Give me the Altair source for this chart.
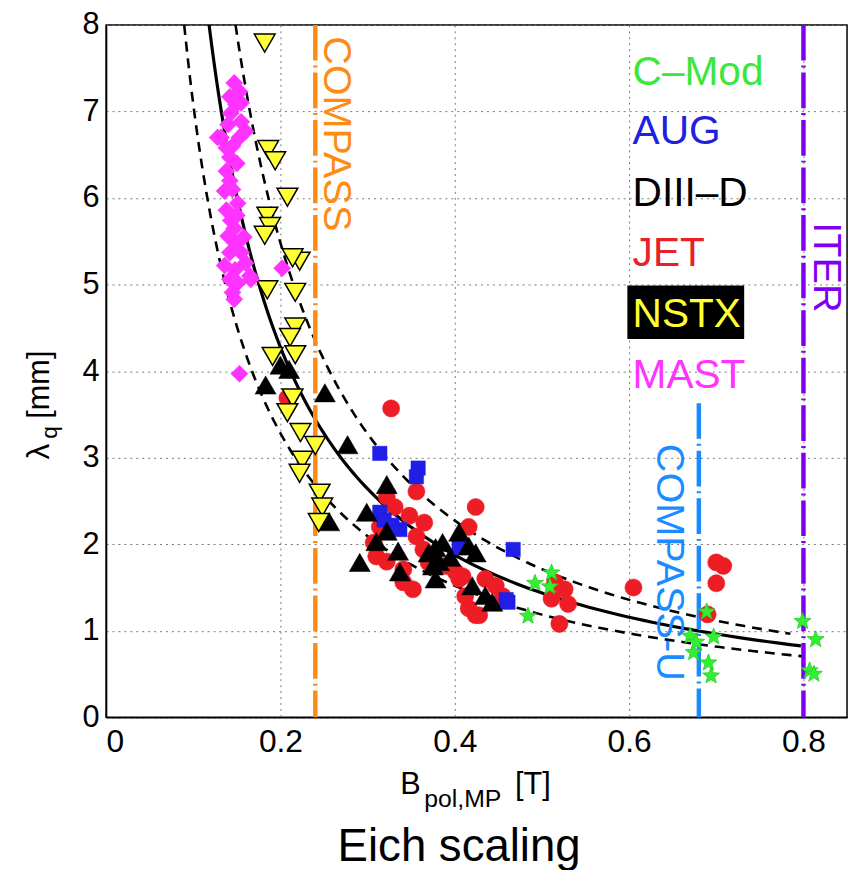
import math
import pandas as pd
import altair as alt

# ---------------- data ----------------
CMOD_X = [0.511, 0.492, 0.509, 0.484, 0.689, 0.670, 0.697, 0.674, 0.691, 0.694, 0.799, 0.814, 0.807, 0.812, 0.677]
CMOD_Y = [1.68, 1.56, 1.52, 1.18, 1.23, 0.95, 0.94, 0.76, 0.64, 0.49, 1.12, 0.91, 0.55, 0.51, 0.88]

AUG_X = [0.314, 0.358, 0.356, 0.314, 0.319, 0.337, 0.328, 0.405, 0.467, 0.461, 0.459]
AUG_Y = [3.05, 2.88, 2.78, 2.37, 2.28, 2.17, 2.22, 1.96, 1.94, 1.33, 1.36]

DIIID_X = [0.200, 0.210, 0.183, 0.251, 0.277, 0.322, 0.299, 0.256, 0.291, 0.322, 0.310, 0.335, 0.337,
           0.378, 0.386, 0.382, 0.378, 0.405, 0.416, 0.424, 0.420, 0.435, 0.443, 0.375, 0.395, 0.370]
DIIID_Y = [4.07, 4.02, 3.84, 3.75, 3.15, 2.69, 2.37, 2.26, 1.79, 2.15, 2.03, 1.92, 1.68,
           1.96, 2.02, 1.80, 1.60, 2.14, 1.98, 1.90, 1.52, 1.41, 1.33, 1.75, 1.85, 1.90]

JET_X = [0.327, 0.356, 0.424, 0.416, 0.322, 0.331, 0.348, 0.356, 0.364, 0.307, 0.310, 0.322, 0.341, 0.341,
         0.352, 0.405, 0.412, 0.416, 0.424, 0.401, 0.435, 0.447, 0.455, 0.314, 0.370, 0.409, 0.428, 0.515,
         0.526, 0.530, 0.511, 0.520, 0.605, 0.700, 0.708, 0.700, 0.690, 0.208, 0.365, 0.390]
JET_Y = [3.57, 2.61, 2.43, 2.20, 2.55, 2.43, 2.33, 2.09, 1.94, 2.02, 1.86, 1.80, 1.71, 1.56,
         1.48, 1.60, 1.40, 1.26, 1.18, 1.68, 1.60, 1.52, 1.40, 2.20, 1.79, 1.63, 1.18, 1.56,
         1.48, 1.31, 1.37, 1.08, 1.50, 1.79, 1.75, 1.55, 1.19, 3.69, 2.25, 1.75]

NSTX_X = [0.182, 0.186, 0.194, 0.208, 0.185, 0.188, 0.182, 0.222, 0.214, 0.185, 0.217, 0.217, 0.211,
          0.191, 0.217, 0.214, 0.208, 0.223, 0.240, 0.225, 0.222, 0.245, 0.248, 0.244]
NSTX_Y = [7.79, 6.56, 6.43, 6.01, 5.79, 5.67, 5.57, 5.27, 5.31, 4.94, 4.91, 4.51, 4.39,
          4.17, 4.19, 3.69, 3.52, 3.29, 3.14, 2.97, 2.82, 2.59, 2.43, 2.25]

MAST_X = [0.147, 0.153, 0.142, 0.149, 0.143, 0.155, 0.160, 0.153, 0.132, 0.138, 0.142, 0.138, 0.142,
          0.136, 0.151, 0.138, 0.143, 0.140, 0.149, 0.142, 0.155, 0.160, 0.136, 0.148, 0.165, 0.142,
          0.151, 0.145, 0.147, 0.153, 0.202, 0.145, 0.150, 0.145, 0.147, 0.140, 0.155, 0.158, 0.150,
          0.166, 0.128]
MAST_Y = [7.33, 7.23, 7.17, 7.08, 6.98, 6.88, 6.77, 6.70, 6.70, 6.58, 6.47, 6.31, 6.20,
          6.08, 5.94, 5.86, 5.74, 5.56, 5.48, 5.37, 5.37, 5.25, 5.22, 5.17, 5.10, 5.06,
          5.02, 4.91, 4.83, 3.97, 5.19, 6.60, 6.40, 6.10, 5.65, 6.85, 7.10, 5.55, 5.80,
          5.06, 6.70]

# Eich scaling fit lambda_q = C * Bpol^(-a), with its error band
FIT_NAMES = ["fit", "upper", "lower"]
FIT_C = [0.63, 0.71, 0.55]
FIT_A = [1.19, 1.27, 1.11]
FIT_XMAX = [0.797, 0.785, 0.80]

# device reference lines
DEV_NAMES = ["COMPASS", "COMPASS-U", "ITER"]
DEV_X = [0.24, 0.68, 0.80]
DEV_YTOP = [8.0, 3.63, 8.0]
DEV_COLORS = ["#ff8a14", "#1a8cff", "#7f00f0"]
DEV_LABEL_X = [0.250, 0.632, 0.812]
DEV_LABEL_Y = [7.87, 3.16, 5.72]

LEGEND_LABELS = ["C–Mod", "AUG", "DIII–D", "JET", "NSTX", "MAST"]
LEGEND_COLORS = ["#3ce63c", "#2020e0", "#000000", "#e8202a", "#ffff33", "#ff33ff"]
LEGEND_Y = [7.31, 6.62, 5.91, 5.22, 4.51, 3.80]

X_TICKS = [0, 0.2, 0.4, 0.6, 0.8]
Y_TICKS = [0, 1, 2, 3, 4, 5, 6, 7, 8]

FONT = "Liberation Sans"

# ---------------- scales ----------------
xs = alt.Scale(domain=[0, 0.85], nice=False, zero=False)
ys = alt.Scale(domain=[0, 8], nice=False, zero=False)


def pts(xv, yv):
    return pd.DataFrame({"x": xv, "y": yv})


def scatter(xv, yv, shape, fill, stroke, size, sw):
    return alt.Chart(pts(xv, yv)).mark_point(
        shape=shape, filled=True, fill=fill, stroke=stroke, strokeWidth=sw,
        size=size, opacity=1, fillOpacity=1
    ).encode(
        x=alt.X("x:Q", scale=xs, axis=alt.Axis(values=X_TICKS, format="~g", title=None)),
        y=alt.Y("y:Q", scale=ys, axis=alt.Axis(values=Y_TICKS, format="d", title=None)),
    )


# star marker path in the unit square
star_pts = []
for k in range(10):
    r = 1.0 if k % 2 == 0 else 0.42
    ang = math.radians(-90 + 36 * k)
    star_pts.append(f"{r*math.cos(ang):.3f},{r*math.sin(ang)+0.1:.3f}")
STAR = "M" + "L".join(star_pts) + "Z"

# fit curves
rows = []
for name, c, a, xmax in zip(FIT_NAMES, FIT_C, FIT_A, FIT_XMAX):
    x0 = (c / 8.0) ** (1.0 / a)
    n = 120
    for i in range(n + 1):
        xv = x0 * (xmax / x0) ** (i / n)
        rows.append({"name": name, "x": xv, "y": c * xv ** (-a)})
fits = pd.DataFrame(rows)

fit_solid = alt.Chart(fits[fits.name == "fit"]).mark_line(color="black", strokeWidth=3.2).encode(
    x=alt.X("x:Q", scale=xs), y=alt.Y("y:Q", scale=ys), order="x:Q")
fit_dash = alt.Chart(fits[fits.name != "fit"]).mark_line(
    color="black", strokeWidth=2.6, strokeDash=[10, 7]).encode(
    x=alt.X("x:Q", scale=xs), y=alt.Y("y:Q", scale=ys), detail="name:N", order="x:Q")

devs = pd.DataFrame({"name": DEV_NAMES, "x": DEV_X, "ytop": DEV_YTOP, "y0": [0, 0, 0], "color": DEV_COLORS})
dev_lines = alt.Chart(devs).mark_rule(strokeWidth=4.5, strokeDash=[36, 5, 2, 5]).encode(
    x=alt.X("x:Q", scale=xs), y=alt.Y("ytop:Q", scale=ys), y2="y0:Q",
    color=alt.Color("color:N", scale=None))

# device labels (rotated)
dev_text = alt.Chart(pd.DataFrame({
    "x": DEV_LABEL_X, "y": DEV_LABEL_Y, "t": DEV_NAMES, "color": DEV_COLORS,
})).mark_text(angle=90, align="left", baseline="alphabetic", font=FONT, fontSize=40).encode(
    x=alt.X("x:Q", scale=xs), y=alt.Y("y:Q", scale=ys), text="t:N",
    color=alt.Color("color:N", scale=None))

# legend
nstx_box = alt.Chart(pd.DataFrame({"x": [0.598], "x2": [0.732], "y": [4.99], "y2": [4.37]})).mark_rect(
    color="black").encode(x=alt.X("x:Q", scale=xs), x2="x2:Q", y=alt.Y("y:Q", scale=ys), y2="y2:Q")
legend_text = alt.Chart(pd.DataFrame({
    "x": [0.604] * 6, "y": LEGEND_Y, "t": LEGEND_LABELS, "color": LEGEND_COLORS,
})).mark_text(align="left", baseline="alphabetic", font=FONT, fontSize=41).encode(
    x=alt.X("x:Q", scale=xs), y=alt.Y("y:Q", scale=ys), text="t:N",
    color=alt.Color("color:N", scale=None))


def txt(x, y, t, size, angle=0, align="left"):
    return alt.Chart(pd.DataFrame({"x": [x], "y": [y], "t": [t]})).mark_text(
        align=align, baseline="alphabetic", font=FONT, fontSize=size, angle=angle, color="black"
    ).encode(x=alt.X("x:Q", scale=xs), y=alt.Y("y:Q", scale=ys), text="t:N")


titles = [
    txt(0.3375, -0.88, "B", 31),
    txt(0.365, -1.03, "pol,MP", 25),
    txt(0.469, -0.88, "[T]", 31),
    txt(0.405, -1.66, "Eich scaling", 46, align="center"),
    txt(-0.066, 2.98, "λ", 32, angle=270),
    txt(-0.056, 3.22, "q", 23, angle=270),
    txt(-0.066, 3.45, "[mm]", 31, angle=270),
]

layers = [
    fit_dash, fit_solid, dev_lines,
    scatter(JET_X, JET_Y, "circle", "#ee1c24", "#ee1c24", 300, 0.5),
    scatter(AUG_X, AUG_Y, "square", "#1f1fe6", "#1f1fe6", 210, 0.5),
    scatter(DIIID_X, DIIID_Y, "triangle-up", "#000000", "#000000", 450, 0.5),
    scatter(NSTX_X, NSTX_Y, "triangle-down", "#ffff33", "#000000", 440, 1.5),
    scatter(CMOD_X, CMOD_Y, STAR, "#33ee33", "#22cc22", 320, 0.8),
    scatter(MAST_X, MAST_Y, "diamond", "#ff33ff", "#ff33ff", 300, 0.5),
    dev_text, nstx_box, legend_text,
] + titles

chart = alt.layer(*layers).properties(
    width=748, height=699,
    autosize=alt.AutoSizeParams(type="none"),
    padding={"left": 99, "top": 13, "right": 5, "bottom": 150},
).configure_view(
    stroke="black", strokeWidth=1.5
).configure_axis(
    grid=True, gridColor="#777777", gridDash=[2, 4], gridWidth=1,
    ticks=False, domainColor="black", domainWidth=1.5,
    labelFont=FONT, labelFontSize=32, labelColor="black", labelPadding=7,
).configure_axisX(labelPadding=9).configure_axisY(labelFontSize=31)

chart.save("out.html", embed_options={"renderer": "svg", "actions": False})
